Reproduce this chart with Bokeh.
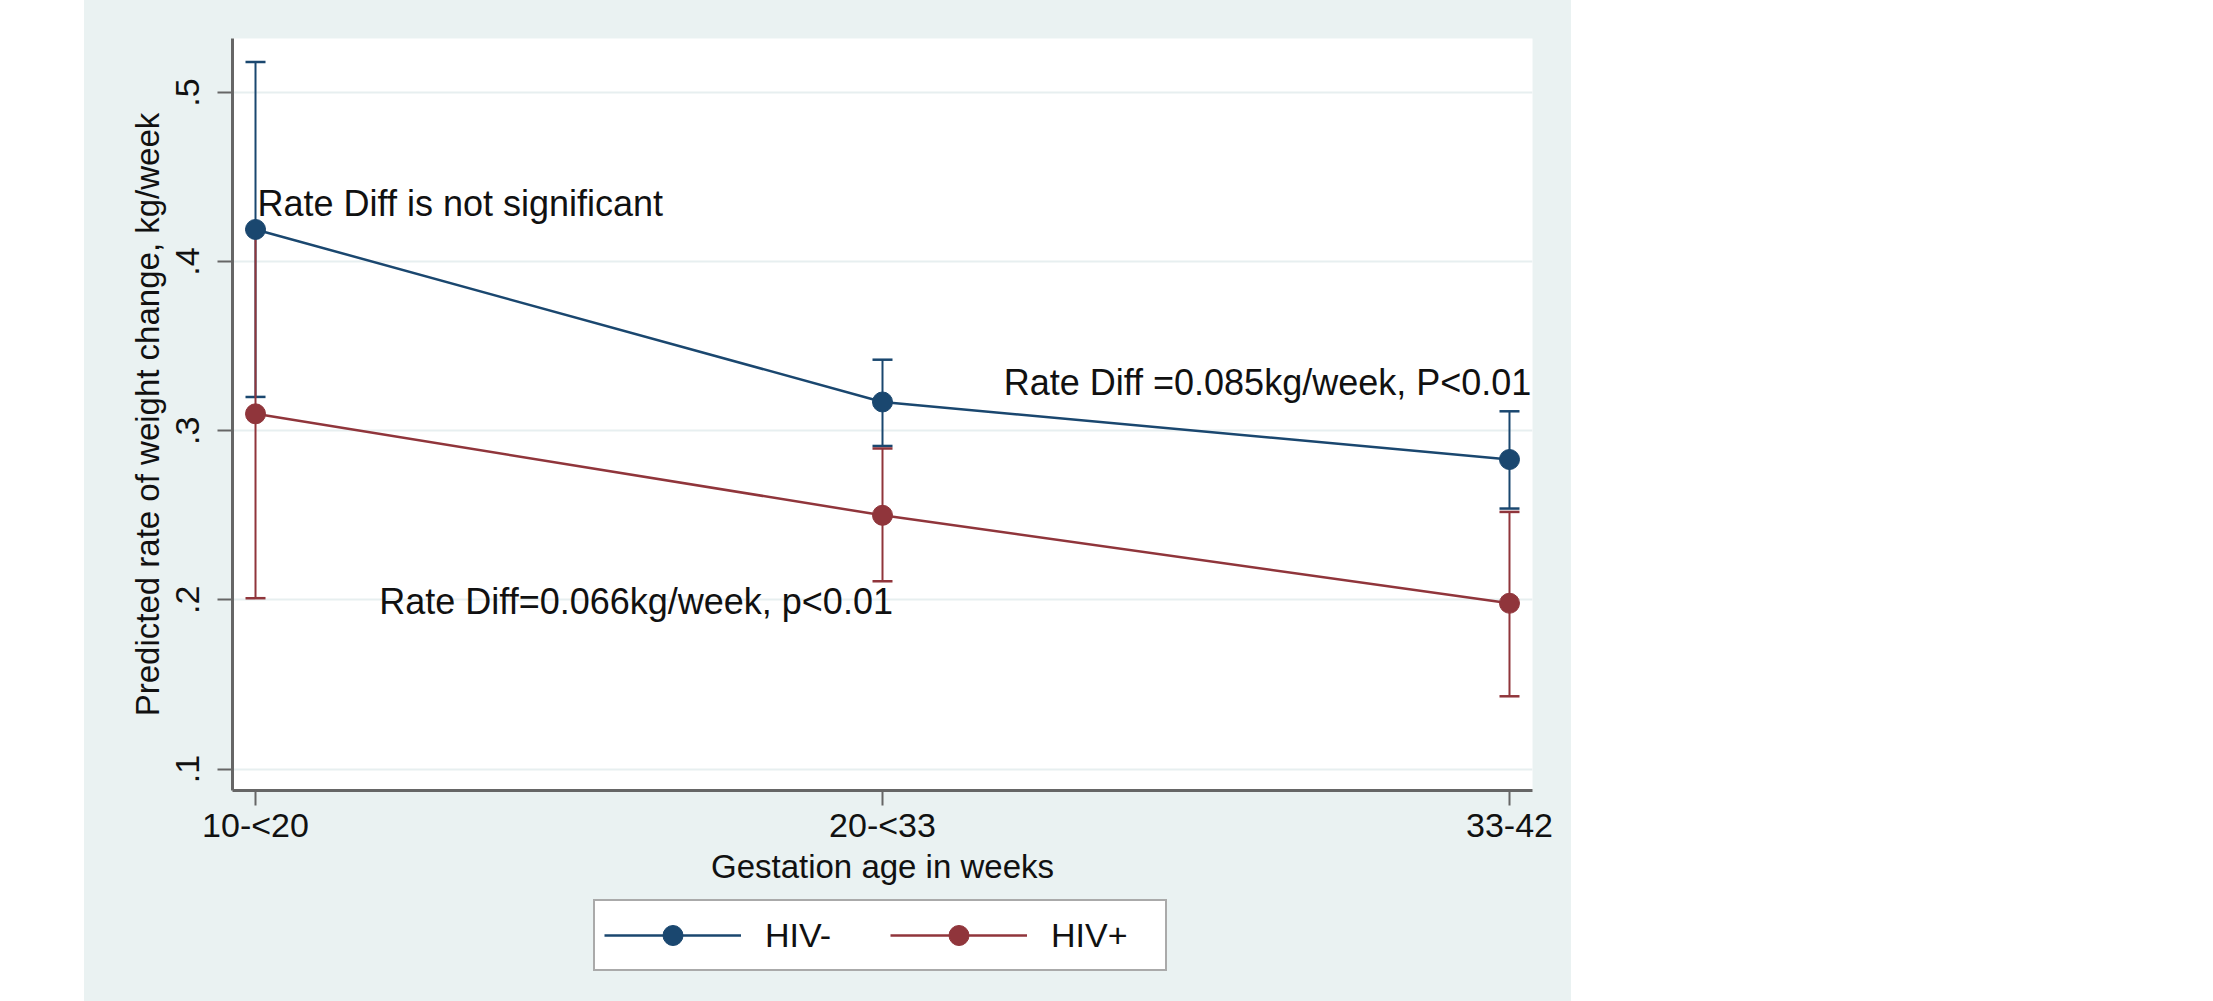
from bokeh.plotting import figure
from bokeh.models import (ColumnDataSource, Whisker, TeeHead, FixedTicker, Legend,
                          LegendItem, Range1d, Spacer)
from bokeh.layouts import row, column
from bokeh.embed import file_html
from bokeh.resources import INLINE
from bokeh.core.properties import value

# ---------------- data ----------------
categories = ["10-<20", "20-<33", "33-42"]
x_pos = [0, 1, 2]

hiv_neg = [0.419, 0.317, 0.283]
hiv_neg_lo = [0.320, 0.291, 0.254]
hiv_neg_hi = [0.518, 0.342, 0.3115]

hiv_pos = [0.310, 0.250, 0.198]
hiv_pos_lo = [0.201, 0.211, 0.143]
hiv_pos_hi = [0.419, 0.2895, 0.252]

y_ticks = [0.1, 0.2, 0.3, 0.4, 0.5]
y_tick_labels = [".1", ".2", ".3", ".4", ".5"]

series_labels = ["HIV-", "HIV+"]

annot_text = ["Rate Diff is not significant",
              "Rate Diff =0.085kg/week, P<0.01",
              "Rate Diff=0.066kg/week, p<0.01"]
annot_x = [0.0, 1.614, 0.607]
annot_y = [0.4345, 0.3283, 0.1991]
annot_align = ["left", "center", "center"]
annot_xoff = [2, 0, 0]

# ---------------- style ----------------
BLUE = "#1a476f"
RED = "#90353b"
PANEL = "#eaf2f2"
GRID = "#e7eff0"
AXIS = "#666666"
TXT = "#111111"
FONT = "Liberation Sans"

p = figure(frame_width=1300, frame_height=752,
           x_range=Range1d(-0.0367, 2.0367), y_range=Range1d(0.0873, 0.5319),
           output_backend="svg", toolbar_location=None,
           min_border_left=148, min_border_right=39,
           min_border_top=38, min_border_bottom=100)
p.background_fill_color = "white"
p.border_fill_color = PANEL
p.outline_line_color = None

# axes
p.xaxis.ticker = FixedTicker(ticks=x_pos)
p.xaxis.major_label_overrides = dict(zip(x_pos, categories))
p.xaxis.axis_label = "Gestation age in weeks"
p.yaxis.ticker = FixedTicker(ticks=y_ticks)
p.yaxis.major_label_overrides = dict(zip(y_ticks, y_tick_labels))
p.yaxis.axis_label = "Predicted rate of weight change, kg/week"
p.yaxis.major_label_orientation = "vertical"

for ax in (p.xaxis[0], p.yaxis[0]):
    ax.axis_line_color = AXIS
    ax.axis_line_width = 3
    ax.major_tick_line_color = AXIS
    ax.major_tick_line_width = 2
    ax.major_tick_out = 15
    ax.major_tick_in = 0
    ax.minor_tick_line_color = None
    ax.major_label_text_font = FONT
    ax.major_label_text_font_size = "34px"
    ax.major_label_text_color = TXT
    ax.axis_label_text_font = FONT
    ax.axis_label_text_font_size = "33px"
    ax.axis_label_text_font_style = "normal"
    ax.axis_label_text_color = TXT

p.xaxis.major_label_standoff = 0
p.xaxis.axis_label_standoff = 1
p.yaxis.major_label_standoff = 18
p.yaxis.axis_label_standoff = 8

p.xgrid.visible = False
p.ygrid.grid_line_color = GRID
p.ygrid.grid_line_width = 2

# error bars
src_neg = ColumnDataSource(dict(x=x_pos, y=hiv_neg, lo=hiv_neg_lo, hi=hiv_neg_hi))
src_pos = ColumnDataSource(dict(x=x_pos, y=hiv_pos, lo=hiv_pos_lo, hi=hiv_pos_hi))

for src, col in ((src_neg, BLUE), (src_pos, RED)):
    w = Whisker(base="x", lower="lo", upper="hi", source=src,
                line_color=col, line_width=2,
                upper_head=TeeHead(size=20, line_color=col, line_width=2.5),
                lower_head=TeeHead(size=20, line_color=col, line_width=2.5))
    p.add_layout(w)

p.line("x", "y", source=src_neg, line_color=BLUE, line_width=2.5)
p.scatter("x", "y", source=src_neg, size=20, fill_color=BLUE, line_color=BLUE)
p.line("x", "y", source=src_pos, line_color=RED, line_width=2.5)
p.scatter("x", "y", source=src_pos, size=20, fill_color=RED, line_color=RED)

# annotations
src_txt = ColumnDataSource(dict(x=annot_x, y=annot_y, text=annot_text,
                                align=annot_align, xoff=annot_xoff))
p.text("x", "y", text="text", source=src_txt, text_align="align",
       x_offset="xoff", text_baseline="middle",
       text_font=value(FONT), text_font_size="36px", text_color=TXT)

# ---------------- legend strip (same panel colour) ----------------
leg = figure(width=1487, height=111, x_range=Range1d(10, 11), y_range=Range1d(10, 11),
             output_backend="svg", toolbar_location=None,
             x_axis_type=None, y_axis_type=None,
             min_border_left=0, min_border_right=0,
             min_border_top=0, min_border_bottom=0)
leg.background_fill_color = PANEL
leg.border_fill_color = PANEL
leg.outline_line_color = None
leg.grid.visible = False

items = []
for src, col, lab in ((src_neg, BLUE, series_labels[0]), (src_pos, RED, series_labels[1])):
    lr = leg.line("x", "y", source=src, line_color=col, line_width=2.5)
    sr = leg.scatter("x", "y", source=src, size=20, fill_color=col, line_color=col)
    items.append(LegendItem(label=lab, renderers=[lr, sr]))

legend = Legend(items=items, orientation="horizontal", location=(361, 30),
                glyph_width=137, glyph_height=50, padding=9, spacing=20,
                label_standoff=24, label_width=105,
                label_text_font=FONT, label_text_font_size="34px",
                label_text_color=TXT,
                border_line_color="#555555", border_line_width=2,
                background_fill_color="white", background_fill_alpha=1.0,
                margin=0)
leg.add_layout(legend, "center")

col_layout = column(p, leg, styles={"background-color": PANEL})
layout = row(Spacer(width=84, height=1001), col_layout)

with open("out.html", "w") as f:
    f.write(file_html(layout, INLINE))
